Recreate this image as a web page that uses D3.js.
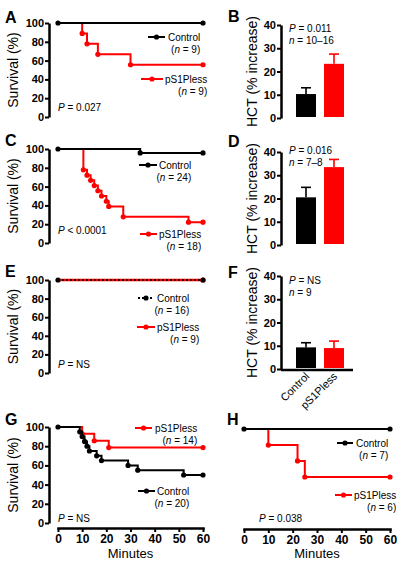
<!DOCTYPE html>
<html><head><meta charset="utf-8">
<script src="https://cdn.jsdelivr.net/npm/d3@7"></script>
<style>body{margin:0;background:#fff}svg{display:block}text{font-family:"Liberation Sans",Arial,Helvetica,sans-serif}</style>
</head><body>
<svg id="c" width="400" height="576"></svg>
<script>
// ---------- data ----------
const timeTicks = [0, 10, 20, 30, 40, 50, 60];
const survivalTicks = [0, 20, 40, 60, 80, 100];
const hctTicks = [0, 10, 20, 30, 40];
const groups = ["Control", "pS1Pless"];

// A
const aControlTime = [0, 60];
const aControlSurv = [100, 100];
const aPlessTime = [0, 10, 12, 16.5, 30, 60];
const aPlessSurv = [100, 88.9, 77.8, 66.7, 55.6, 55.6];
// C
const cControlTime = [0, 34, 60];
const cControlSurv = [100, 95.8, 95.8];
const cPlessTime = [0, 10.5, 12, 13.5, 15, 16.5, 18, 20, 21, 27, 54, 60];
const cPlessSurv = [100, 77.8, 72.2, 66.7, 61.1, 55.6, 50, 44.4, 38.9, 27.8, 22.2, 22.2];
// E
const eControlTime = [0, 60];
const eControlSurv = [100, 100];
const ePlessTime = [0, 60];
const ePlessSurv = [100, 100];
// G
const gControlTime = [0, 9, 10, 11, 12, 13, 16, 18, 29, 33, 52, 60];
const gControlSurv = [100, 95, 90, 85, 80, 75, 70, 65, 60, 55, 50, 50];
const gPlessTime = [0, 10, 15, 21, 60];
const gPlessSurv = [100, 92.9, 85.7, 78.6, 78.6];
// H
const hControlTime = [0, 60];
const hControlSurv = [100, 100];
const hPlessTime = [0, 10, 22, 25, 60];
const hPlessSurv = [100, 83.3, 66.7, 50, 50];

// bar panels (mean, SEM) per group
const bMeans = [10.3, 23.3];
const bSem = [2.7, 4.2];
const dMeans = [20.5, 33.5];
const dSem = [4.3, 3.3];
const fMeans = [9.3, 9.0];
const fSem = [2.0, 3.0];

// ---------- drawing ----------
const RED = "#ff0000", BLACK = "#000000";
const FONT = '"Liberation Sans", Arial, Helvetica, sans-serif';
const svg = d3.select("#c");

function styleAxis(g, fs) {
  g.attr("font-family", FONT).attr("font-size", fs).attr("font-weight", "bold");
  g.select(".domain").attr("stroke-width", 2.5).attr("stroke", "#000");
  g.selectAll(".tick line").attr("stroke-width", 2).attr("stroke", "#000");
  g.selectAll(".tick text").attr("fill", "#000");
}
function letter(t, x, y) {
  svg.append("text").attr("x", x).attr("y", y).attr("font-size", 16)
    .attr("font-weight", "bold").text(t);
}
function yTitle(t, cx, cy) {
  svg.append("text").attr("transform", `translate(${cx},${cy}) rotate(-90)`)
    .attr("text-anchor", "middle").attr("font-size", 14).text(t);
}
function statText(x, y, italic, rest) {
  const t = svg.append("text").attr("x", x).attr("y", y).attr("font-size", 10);
  t.append("tspan").attr("font-style", "italic").text(italic);
  t.append("tspan").text(rest);
}
function drawLegend(item) {
  const [x0, x1, ly] = item.line;
  const l = svg.append("line").attr("x1", x0).attr("x2", x1).attr("y1", ly).attr("y2", ly)
    .attr("stroke", item.color).attr("stroke-width", 2);
  if (item.dash) l.attr("stroke-dasharray", item.dash);
  svg.append("circle").attr("cx", (x0 + x1) / 2).attr("cy", ly).attr("r", 2.6).attr("fill", item.color);
  const name = svg.append("text").attr("x", item.tx).attr("y", ly + 4).attr("font-size", 10).text(item.name);
  const w = name.node().getComputedTextLength();
  const t2 = svg.append("text").attr("x", item.tx + w).attr("y", ly + 16)
    .attr("font-size", 10).attr("text-anchor", "end");
  t2.append("tspan").text("(");
  t2.append("tspan").attr("font-style", "italic").text("n");
  t2.append("tspan").text(" = " + item.n + ")");
}

function km(p) {
  const x = d3.scaleLinear().domain([0, 60]).range([p.x0, p.x1]);
  const y = d3.scaleLinear().domain([0, 100]).range([p.yb, p.yt]);
  if (p.yAxis) {
    const g = svg.append("g").attr("transform", `translate(${p.ax},0)`)
      .call(d3.axisLeft(y).tickValues(survivalTicks).tickSize(4).tickSizeOuter(0).tickPadding(1));
    styleAxis(g, 11);
    yTitle("Survival (%)", 18, (p.yt + p.yb) / 2);
  }
  if (p.xAxis) {
    const g = svg.append("g").attr("transform", `translate(0,${p.xy})`)
      .call(d3.axisBottom(x).tickValues(timeTicks).tickSize(4).tickSizeOuter(0).tickPadding(2));
    styleAxis(g, 12);
    g.select(".domain").attr("stroke-linecap", "square");
    svg.append("text").attr("x", x(30)).attr("y", 558).attr("text-anchor", "middle")
      .attr("font-size", 13).text("Minutes");
  }
  const line = d3.line().curve(d3.curveStepAfter).x(d => x(d[0])).y(d => y(d[1]));
  p.series.forEach(s => {
    const pts = s.t.map((t, i) => [t, s.s[i]]);
    const path = svg.append("path").datum(pts).attr("d", line).attr("fill", "none")
      .attr("stroke", s.color).attr("stroke-width", s.width || 2);
    if (s.dash) path.attr("stroke-dasharray", s.dash);
    svg.selectAll(null).data(pts.slice(s.skipFirst ? 1 : 0)).enter().append("circle")
      .attr("cx", d => x(d[0])).attr("cy", d => y(d[1])).attr("r", 2.6).attr("fill", s.color);
  });
  p.legend.forEach(drawLegend);
  statText(p.px, p.py, "P", p.ptext);
  letter(p.letter, p.lx, p.ly);
}

function bars(p) {
  const y = d3.scaleLinear().domain([0, 40]).range([p.yb, p.yt]);
  const xb = d3.scaleBand().domain(groups).range([288, 352]).paddingInner(0.2857).paddingOuter(0.2857);
  const g = svg.append("g").attr("transform", `translate(281,0)`)
    .call(d3.axisLeft(y).tickValues(hctTicks).tickSize(4).tickSizeOuter(0).tickPadding(1));
  styleAxis(g, 11);
  yTitle("HCT (% increase)", 257, (p.yt + p.yb) / 2);
  const colors = [BLACK, RED];
  groups.forEach((gname, i) => {
    const cx = xb(gname) + xb.bandwidth() / 2;
    svg.append("line").attr("x1", cx).attr("x2", cx).attr("y1", y(p.means[i])).attr("y2", y(p.means[i] + p.sem[i]))
      .attr("stroke", colors[i]).attr("stroke-width", 1.6);
    svg.append("line").attr("x1", cx - 5).attr("x2", cx + 5).attr("y1", y(p.means[i] + p.sem[i])).attr("y2", y(p.means[i] + p.sem[i]))
      .attr("stroke", colors[i]).attr("stroke-width", 1.6);
    svg.append("rect").attr("x", xb(gname)).attr("width", xb.bandwidth())
      .attr("y", y(p.means[i])).attr("height", y(0) - y(p.means[i]) - 1).attr("fill", colors[i]);
  });
  if (p.xAxis) {
    svg.append("line").attr("x1", 281).attr("x2", 353).attr("y1", p.yb + 1).attr("y2", p.yb + 1)
      .attr("stroke", "#000").attr("stroke-width", 2.5);
    groups.forEach(gname => {
      const cx = xb(gname) + xb.bandwidth() / 2 + 4;
      svg.append("text").attr("transform", `translate(${cx},${p.yb + 8}) rotate(-45)`)
        .attr("text-anchor", "end").attr("font-size", 11).text(gname);
    });
  }
  statText(289, p.py, "P", p.ptext);
  statText(289, p.py + 12, "n", p.ntext);
  letter(p.letter, 228, p.ly);
}

km({ letter: "A", lx: 5, ly: 23, yAxis: true, ax: 49, x0: 58, x1: 203, yt: 23, yb: 117,
  series: [
    { t: aPlessTime, s: aPlessSurv, color: RED, skipFirst: true },
    { t: aControlTime, s: aControlSurv, color: BLACK }
  ],
  legend: [
    { name: "Control", n: 9, color: BLACK, line: [148, 165, 37], tx: 168 },
    { name: "pS1Pless", n: 9, color: RED, line: [141, 163, 79], tx: 165 }
  ],
  px: 58, py: 111, ptext: " = 0.027" });

km({ letter: "C", lx: 5, ly: 146, yAxis: true, ax: 49, x0: 58, x1: 203, yt: 149, yb: 243,
  series: [
    { t: cPlessTime, s: cPlessSurv, color: RED, skipFirst: true },
    { t: cControlTime, s: cControlSurv, color: BLACK }
  ],
  legend: [
    { name: "Control", n: 24, color: BLACK, line: [139, 157, 165], tx: 159 },
    { name: "pS1Pless", n: 18, color: RED, line: [140, 157, 234], tx: 159 }
  ],
  px: 58, py: 234, ptext: " < 0.0001" });

km({ letter: "E", lx: 5, ly: 277, yAxis: true, ax: 49, x0: 58, x1: 203, yt: 280, yb: 373,
  series: [
    { t: ePlessTime, s: ePlessSurv, color: RED, width: 2.5, skipFirst: true },
    { t: eControlTime, s: eControlSurv, color: BLACK, dash: "2,2", width: 1.6 }
  ],
  legend: [
    { name: "Control", n: 16, color: BLACK, dash: "2,2", line: [138, 154, 298], tx: 157 },
    { name: "pS1Pless", n: 9, color: RED, line: [137, 155, 327], tx: 157 }
  ],
  px: 58, py: 368, ptext: " = NS" });

km({ letter: "G", lx: 5, ly: 425, yAxis: true, ax: 49, xAxis: true, xy: 528, x0: 58, x1: 203, yt: 427, yb: 523,
  series: [
    { t: gPlessTime, s: gPlessSurv, color: RED, skipFirst: true },
    { t: gControlTime, s: gControlSurv, color: BLACK }
  ],
  legend: [
    { name: "pS1Pless", n: 14, color: RED, line: [135, 152, 428], tx: 155 },
    { name: "Control", n: 20, color: BLACK, line: [138, 155, 491], tx: 157 }
  ],
  px: 58, py: 522, ptext: " = NS" });

km({ letter: "H", lx: 227, ly: 425, yAxis: false, xAxis: true, xy: 529, x0: 244, x1: 390, yt: 429, yb: 525,
  series: [
    { t: hPlessTime, s: hPlessSurv, color: RED, skipFirst: true },
    { t: hControlTime, s: hControlSurv, color: BLACK }
  ],
  legend: [
    { name: "Control", n: 7, color: BLACK, line: [337, 353, 443], tx: 356 },
    { name: "pS1Pless", n: 6, color: RED, line: [335, 352, 495], tx: 354 }
  ],
  px: 259, py: 522, ptext: " = 0.038" });

bars({ letter: "B", ly: 22, yt: 25, yb: 118, means: bMeans, sem: bSem, py: 32, ptext: " = 0.011", ntext: " = 10\u201316" });
bars({ letter: "D", ly: 147, yt: 152, yb: 245, means: dMeans, sem: dSem, py: 154, ptext: " = 0.016", ntext: " = 7\u20138" });
bars({ letter: "F", ly: 278, yt: 276, yb: 369, means: fMeans, sem: fSem, py: 284, ptext: " = NS", ntext: " = 9", xAxis: true });
</script>
</body></html>
